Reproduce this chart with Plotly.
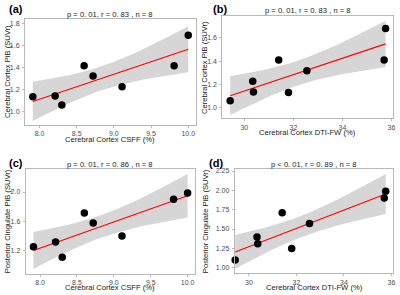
import numpy as np
import plotly.graph_objects as go

# ---- data ----
csff = [7.91, 8.21, 8.30, 8.60, 8.72, 9.11, 9.81, 10.00]
cortex_pib_a = [1.136, 1.142, 1.06, 1.417, 1.323, 1.227, 1.417, 1.692]
pcc_pib_c = [1.25, 1.314, 1.104, 1.712, 1.575, 1.397, 1.90, 1.986]

dtifw = [29.42, 30.34, 30.37, 31.40, 31.80, 32.55, 35.70, 35.76]
cortex_pib_b = [1.06, 1.226, 1.134, 1.409, 1.131, 1.317, 1.409, 1.68]
pcc_pib_d = [1.099, 1.397, 1.310, 1.711, 1.25, 1.573, 1.90, 1.99]

titles = ["p = 0. 01, r = 0. 83 , n = 8", "p = 0. 01, r = 0. 83 , n = 8",
          "p = 0. 01, r = 0. 86 , n = 8", "p < 0. 01, r = 0. 89 , n = 8"]
labels = ["(a)", "(b)", "(c)", "(d)"]
xtitles = ["Cerebral Cortex CSFF (%)", "Cerebral Cortex DTI-FW (%)",
           "Cerebral Cortex CSFF (%)", "Cerebral Cortex DTI-FW (%)"]
ytitles = ["Cerebral Cortex PiB (SUVr)", "Cerebral Cortex PiB (SUVr)",
           "Posterior Cingulate PiB (SUVr)", "Posterior Cingulate PiB (SUVr)"]
xticks_csff = [8.0, 8.5, 9.0, 9.5, 10.0]
xticks_fw = [30, 32, 34, 36]
yticks_a = [1.0, 1.2, 1.4, 1.6, 1.8]
yticks_b = [1.0, 1.2, 1.4, 1.6]
yticks_c = [1.2, 1.6, 2.0]
yticks_d = [1.0, 1.25, 1.5, 1.75, 2.0, 2.25]

W, H = 400, 295
T975 = 2.4469  # t quantile, df = 6

panels = [
    dict(x=csff, y=cortex_pib_a, xt=xticks_csff, yt=yticks_a, xfmt=".1f", yfmt=".1f",
         px=(25, 195.7), py=(19, 125), xr=[7.805, 10.10], yr=[0.880, 1.839]),
    dict(x=dtifw, y=cortex_pib_b, xt=xticks_fw, yt=yticks_b, xfmt="d", yfmt=".1f",
         px=(222.3, 392.7), py=(15.7, 118.3), xr=[29.10, 36.05], yr=[0.909, 1.789]),
    dict(x=csff, y=pcc_pib_c, xt=xticks_csff, yt=yticks_c, xfmt=".1f", yfmt=".1f",
         px=(25.7, 195), py=(169, 273.5), xr=[7.805, 10.10], yr=[0.882, 2.316]),
    dict(x=dtifw, y=pcc_pib_d, xt=xticks_fw, yt=yticks_d, xfmt="d", yfmt=".2f",
         px=(234.7, 393.3), py=(169, 273.3), xr=[29.40, 36.08], yr=[0.928, 2.276]),
]

fig = go.Figure()
layout = {}
annotations = []
tickfont = dict(family="Liberation Sans, Arial, sans-serif", size=7, color="#4D4D4D")
txtfont = dict(family="Liberation Sans, Arial, sans-serif", size=7.6, color="#1A1A1A")

for i, p in enumerate(panels):
    k = "" if i == 0 else str(i + 1)
    xa, ya = "x" + k, "y" + k
    x = np.array(p["x"], float)
    y = np.array(p["y"], float)
    n = len(x)
    b, a = np.polyfit(x, y, 1)
    xg = np.linspace(x.min(), x.max(), 80)
    yhat = a + b * xg
    resid = y - (a + b * x)
    s = np.sqrt(np.sum(resid ** 2) / (n - 2))
    se = s * np.sqrt(1 / n + (xg - x.mean()) ** 2 / np.sum((x - x.mean()) ** 2))
    lo, hi = yhat - T975 * se, yhat + T975 * se

    fig.add_trace(go.Scatter(x=np.concatenate([xg, xg[::-1]]), y=np.concatenate([hi, lo[::-1]]),
                             fill="toself", fillcolor="#D6D6D6", line=dict(width=0),
                             mode="lines", hoverinfo="skip", showlegend=False, xaxis=xa, yaxis=ya))
    fig.add_trace(go.Scatter(x=xg, y=yhat, mode="lines", line=dict(color="#FF0000", width=1.1),
                             showlegend=False, xaxis=xa, yaxis=ya))
    fig.add_trace(go.Scatter(x=x, y=y, mode="markers", marker=dict(color="black", size=7.5),
                             cliponaxis=False, showlegend=False, xaxis=xa, yaxis=ya))

    x0, x1 = p["px"]
    y0, y1 = p["py"]
    dx = [x0 / W, x1 / W]
    dy = [1 - y1 / H, 1 - y0 / H]
    common = dict(showgrid=False, zeroline=False, showline=True, linecolor="#B8B8B8", linewidth=1,
                  mirror=True, ticks="outside", ticklen=2, tickcolor="#B8B8B8", tickwidth=1,
                  tickfont=tickfont, fixedrange=True, automargin=False)
    layout["xaxis" + k] = dict(domain=dx, range=p["xr"], tickvals=p["xt"], tickformat=p["xfmt"],
                               anchor=ya, ticklabelstandoff=0, **common)
    layout["yaxis" + k] = dict(domain=dy, range=p["yr"], tickvals=p["yt"], tickformat=p["yfmt"],
                               anchor=xa, ticklabelstandoff=1, **common)
    cx = (x0 + x1) / 2 / W
    annotations.append(dict(text=titles[i], x=cx, y=1 - (y0 - 5) / H, xref="paper", yref="paper",
                            showarrow=False, font=txtfont, xanchor="center", yanchor="middle"))
    annotations.append(dict(text=xtitles[i], x=cx, y=1 - (y1 + 14) / H, xref="paper", yref="paper",
                            showarrow=False, font=txtfont, xanchor="center", yanchor="middle"))
    ytx = 7 if i % 2 == 0 else 205
    annotations.append(dict(text=ytitles[i], x=ytx / W, y=1 - (y0 + y1) / 2 / H, xref="paper",
                            yref="paper", showarrow=False, font=txtfont, textangle=-90,
                            xanchor="center", yanchor="middle"))
    lx = 7 if i % 2 == 0 else 211
    if i == 3:
        lx = 207
    ly = 9 if i < 2 else 163
    annotations.append(dict(text="<b>" + labels[i] + "</b>", x=lx / W, y=1 - ly / H, xref="paper",
                            yref="paper", showarrow=False, xanchor="left", yanchor="middle",
                            font=dict(family="Liberation Sans, Arial, sans-serif", size=11, color="black")))

fig.update_layout(template="none", width=W, height=H, margin=dict(l=0, r=0, t=0, b=0),
                  paper_bgcolor="white", plot_bgcolor="white", annotations=annotations,
                  showlegend=False, **layout)
fig.write_html("out.html", config={"displayModeBar": False},
               post_script="document.body.style.margin='0';document.body.style.overflow='hidden';")
